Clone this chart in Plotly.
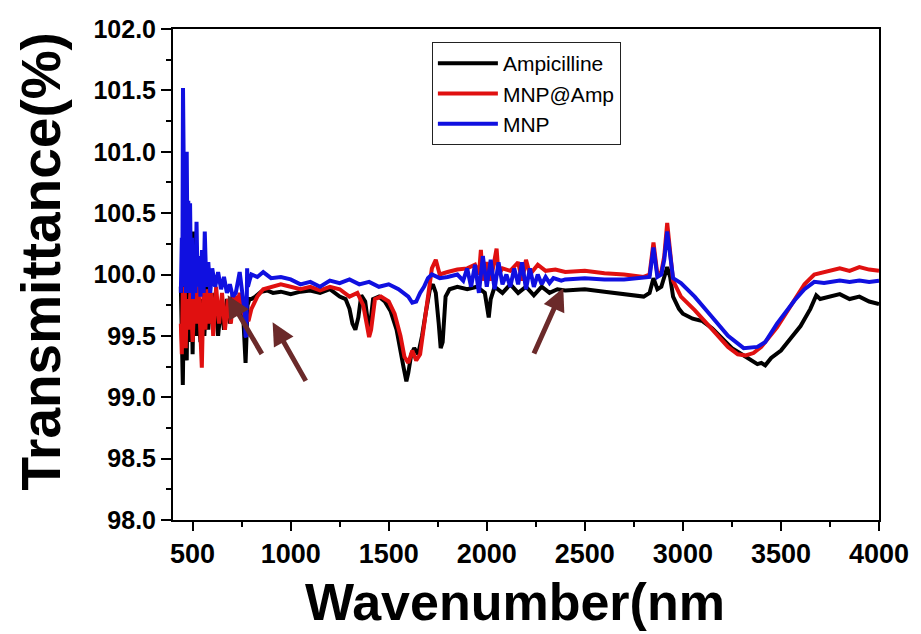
import plotly.graph_objects as go

# ---------------- data ----------------
series_names = ["Ampicilline", "MNP@Amp", "MNP"]
series_colors = ["#000000", "#E01010", "#1010E0"]

amp_x = [440, 445, 450, 455, 460, 465, 470, 475, 480, 485, 490, 495, 500, 510, 520, 530, 540, 550, 560, 570,
         580, 590, 600, 615, 630, 645, 660, 675, 690, 705, 720, 735, 750, 760, 765, 770, 775, 780, 790, 800,
         820, 850, 880, 910, 950, 1000, 1050, 1100, 1150, 1200, 1250, 1280, 1300, 1315, 1330, 1345, 1360, 1380, 1395, 1405,
         1420, 1450, 1480, 1510, 1540, 1560, 1575, 1590, 1600, 1615, 1630, 1650, 1670, 1690, 1710, 1725, 1740, 1755, 1765, 1775,
         1790, 1810, 1850, 1900, 1950, 1990, 2000, 2010, 2020, 2040, 2080, 2120, 2160, 2200, 2240, 2280, 2320, 2360, 2400, 2500,
         2600, 2700, 2800, 2830, 2850, 2870, 2890, 2905, 2920, 2935, 2950, 2980, 3000, 3050, 3100, 3150, 3200, 3250, 3300, 3350,
         3380, 3400, 3420, 3450, 3500, 3550, 3600, 3650, 3680, 3700, 3750, 3800, 3850, 3900, 3950, 4000]
amp_y = [99.9, 99.15, 99.1, 99.7, 100.3, 99.5, 99.3, 100.0, 99.6, 99.45, 100.35, 99.6, 99.35, 100.35, 99.5, 99.7, 99.45, 99.8, 99.5, 99.9,
         99.55, 99.8, 99.6, 99.85, 99.5, 99.75, 99.55, 99.8, 99.6, 99.85, 99.8, 99.75, 99.7, 99.6, 99.45, 99.28, 99.5, 99.75, 99.8, 99.8,
         99.82, 99.86, 99.87, 99.85, 99.86, 99.84, 99.86, 99.87, 99.85, 99.88, 99.82, 99.8, 99.72, 99.6, 99.55, 99.65, 99.83, 99.78, 99.6, 99.58,
         99.8, 99.82, 99.78, 99.7, 99.55, 99.4, 99.25, 99.13, 99.2, 99.35, 99.4, 99.35, 99.5, 99.7, 99.88, 99.92, 99.85, 99.6, 99.4, 99.45,
         99.82, 99.88, 99.9, 99.88, 99.9, 99.85, 99.75, 99.65, 99.8, 99.9, 99.85, 99.92, 99.85, 99.9, 99.83, 99.9, 99.85, 99.88, 99.87, 99.88,
         99.86, 99.84, 99.82, 99.85, 99.97, 99.88, 99.9, 99.98, 100.06, 99.98, 99.82, 99.72, 99.68, 99.64, 99.62, 99.56, 99.48, 99.4, 99.35, 99.3,
         99.27, 99.28, 99.26, 99.32, 99.38, 99.48, 99.58, 99.72, 99.83, 99.8, 99.82, 99.84, 99.8, 99.82, 99.78, 99.76]

mnpamp_x = [440, 445, 450, 455, 460, 465, 470, 480, 490, 500, 510, 520, 530, 540, 547, 555, 565, 575, 585, 595,
            605, 620, 635, 650, 665, 680, 695, 710, 725, 740, 755, 770, 785, 800, 830, 860, 900, 950, 1000, 1050,
            1100, 1150, 1200, 1250, 1300, 1340, 1370, 1390, 1400, 1410, 1430, 1460, 1500, 1530, 1560, 1580, 1600, 1620, 1640, 1660,
            1680, 1700, 1720, 1740, 1760, 1800, 1850, 1900, 1940, 1960, 1970, 1980, 2000, 2020, 2040, 2050, 2060, 2080, 2120, 2160,
            2180, 2200, 2220, 2260, 2300, 2350, 2400, 2500, 2600, 2700, 2800, 2830, 2850, 2870, 2890, 2905, 2920, 2935, 2950, 2990,
            3060, 3140, 3230, 3280, 3320, 3360, 3400, 3480, 3570, 3620, 3670, 3720, 3800, 3850, 3900, 3950, 4000]
mnpamp_y = [99.6, 99.35, 99.85, 99.5, 99.9, 99.4, 99.8, 99.55, 99.9, 99.45, 99.85, 99.6, 99.9, 99.5, 99.24, 99.85, 99.55, 99.88, 99.6, 99.85,
            99.5, 99.9, 99.6, 99.85, 99.55, 99.8, 99.6, 99.85, 99.75, 99.85, 99.7, 99.65, 99.62, 99.72, 99.82, 99.88, 99.9, 99.92, 99.9, 99.88,
            99.9, 99.87, 99.9, 99.88, 99.82, 99.85, 99.75, 99.55, 99.49, 99.55, 99.8, 99.82, 99.78, 99.68, 99.5, 99.33, 99.28, 99.38, 99.3, 99.35,
            99.6, 99.85, 100.05, 100.12, 100.0, 100.02, 100.04, 100.05, 100.08, 100.0, 100.2, 99.95, 100.1, 99.95, 100.15, 100.21, 100.0, 100.05, 100.03, 100.1,
            99.95, 100.12, 100.0, 100.08, 100.03, 100.04, 100.02, 100.03, 100.01, 100.0, 99.98, 100.0, 100.26, 100.0, 100.02, 100.15, 100.42, 100.2, 99.95, 99.82,
            99.71, 99.57, 99.41, 99.35, 99.34, 99.36, 99.41, 99.57, 99.79, 99.92, 100.0, 100.02, 100.05, 100.03, 100.06, 100.04, 100.03]

mnp_x = [440, 445, 448, 451, 454, 458, 462, 466, 470, 474, 478, 482, 487, 492, 497, 502, 508, 514, 520, 526,
         532, 540, 548, 556, 562, 570, 580, 590, 600, 615, 630, 645, 660, 675, 690, 705, 720, 740, 755, 765,
         770, 774, 778, 782, 790, 800, 830, 860, 900, 950, 1000, 1050, 1100, 1150, 1200, 1250, 1300, 1350, 1400, 1450,
         1500, 1550, 1600, 1620, 1640, 1660, 1680, 1700, 1720, 1760, 1800, 1850, 1880, 1900, 1920, 1940, 1960, 1980, 2000, 2020,
         2040, 2060, 2080, 2100, 2120, 2140, 2160, 2180, 2200, 2220, 2240, 2260, 2280, 2300, 2320, 2340, 2380, 2400, 2500, 2600,
         2700, 2800, 2830, 2850, 2870, 2890, 2905, 2920, 2935, 2950, 2990, 3060, 3140, 3230, 3310, 3380, 3420, 3480, 3570, 3620,
         3670, 3720, 3800, 3850, 3900, 3950, 4000]
mnp_y = [99.85, 100.3, 100.0, 101.52, 101.0, 99.9, 100.6, 99.85, 101.0, 100.1, 100.6, 99.85, 100.58, 99.9, 100.3, 99.8, 100.2, 99.85, 100.43, 99.9,
         100.15, 99.82, 100.2, 99.85, 100.35, 99.9, 100.1, 99.85, 100.05, 99.9, 100.02, 99.88, 99.98, 99.85, 99.92, 99.82, 99.85, 100.02, 99.85, 99.7,
         99.5, 99.49, 100.05, 99.9, 99.95, 100.0, 99.98, 100.02, 99.97, 99.98, 99.96, 99.92, 99.94, 99.9, 99.95, 99.93, 99.96, 99.92, 99.94, 99.9,
         99.92, 99.88, 99.82, 99.77, 99.78, 99.85, 99.9, 99.97, 100.0, 99.97, 99.98, 100.0, 99.95, 100.05, 99.9, 100.08, 99.85, 100.15, 99.9, 100.12,
         99.88, 100.1, 99.92, 100.0, 99.9, 100.05, 99.92, 100.1, 99.88, 100.05, 99.9, 100.0, 99.92, 99.98, 99.93, 99.97, 99.95, 99.96, 99.97, 99.96,
         99.96, 99.97, 99.98, 100.22, 99.98, 100.0, 100.12, 100.35, 100.15, 99.97, 99.93, 99.82, 99.67, 99.5, 99.4, 99.41, 99.45, 99.6, 99.79, 99.88,
         99.94, 99.93, 99.95, 99.94, 99.95, 99.94, 99.95]

x_ticks = [500, 1000, 1500, 2000, 2500, 3000, 3500, 4000]
y_ticks = [98.0, 98.5, 99.0, 99.5, 100.0, 100.5, 101.0, 101.5, 102.0]

# arrows: (head wavenumber, head transmittance, tail offset px x, tail offset px y)
arrows = [(679, 99.83, 35, 60), (908, 99.61, 34, 60), (2390, 99.89, -30, 67)]

# ---------------- figure ----------------
fig = go.Figure()
for name, color, xs, ys in zip(series_names, series_colors,
                               [amp_x, mnpamp_x, mnp_x], [amp_y, mnpamp_y, mnp_y]):
    fig.add_trace(go.Scatter(x=xs, y=ys, mode="lines", name=name,
                             line=dict(color=color, width=4)))

font_family = "Liberation Sans, Arial, sans-serif"

fig.update_layout(
    width=921, height=634,
    margin=dict(l=173, r=39, t=29, b=114),
    paper_bgcolor="white", plot_bgcolor="white",
    showlegend=True,
    legend=dict(x=0.3667, y=0.9735, xanchor="left", yanchor="top",
                bordercolor="#222222", borderwidth=1, bgcolor="white",
                font=dict(family=font_family, size=21, color="black"),
                itemwidth=60, tracegroupgap=0),
    font=dict(family=font_family, color="black"),
)

fig.update_xaxes(
    range=[400, 4000], tickvals=x_ticks, ticktext=[str(v) for v in x_ticks],
    showgrid=False, zeroline=False,
    showline=True, linecolor="black", linewidth=2, mirror=True,
    ticks="outside", ticklen=9, tickwidth=2, tickcolor="black",
    minor=dict(ticks="outside", ticklen=5, tickwidth=2, tickcolor="black", dtick=250, tick0=250),
    tickfont=dict(family=font_family, size=27, color="black", weight="bold"),
)
fig.update_yaxes(
    range=[98, 102], tickvals=y_ticks, ticktext=[f"{v:.1f}" for v in y_ticks],
    showgrid=False, zeroline=False,
    showline=True, linecolor="black", linewidth=2, mirror=True,
    ticks="outside", ticklen=10, tickwidth=2, tickcolor="black",
    minor=dict(ticks="outside", ticklen=5, tickwidth=2, tickcolor="black", dtick=0.25, tick0=98.25),
    tickfont=dict(family=font_family, size=25, color="black", weight="bold"),
)

# axis titles
fig.add_annotation(text="Transmittance(%)", xref="paper", yref="paper",
                   x=-0.1876, y=0.5255, xanchor="center", yanchor="middle",
                   textangle=-90, showarrow=False,
                   font=dict(family=font_family, size=55, color="black", weight="bold"))
fig.add_annotation(text="Wavenumber(nm", xref="paper", yref="paper",
                   x=0.485, y=-0.168, xanchor="center", yanchor="middle",
                   showarrow=False,
                   font=dict(family=font_family, size=52, color="black", weight="bold"))

for hx, hy, axo, ayo in arrows:
    fig.add_annotation(x=hx, y=hy, xref="x", yref="y", ax=axo, ay=ayo,
                       showarrow=True, arrowhead=2, arrowsize=0.9, arrowwidth=5,
                       arrowcolor="#6B2A2A", text="")

fig.write_html("out.html")
